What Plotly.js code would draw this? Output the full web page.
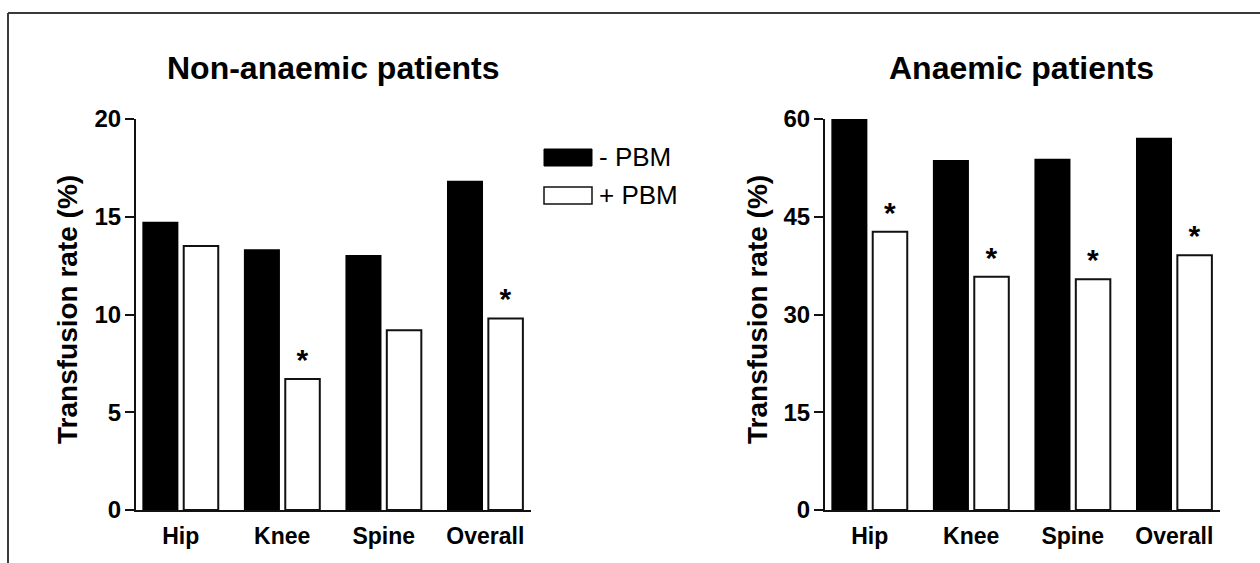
<!DOCTYPE html>
<html>
<head>
<meta charset="utf-8">
<script src="https://cdn.plot.ly/plotly-3.0.1.min.js"></script>
<style>html,body{margin:0;padding:0;background:#fff;}#chart{width:1260px;height:563px;}</style>
</head>
<body>
<div id="chart"></div>
<script>
// ---- data ----
const categories = ['Hip', 'Knee', 'Spine', 'Overall'];
const seriesNames = ['- PBM', '+ PBM'];
const nonAnaemicMinusPBM = [14.7, 13.3, 13.0, 16.8];
const nonAnaemicPlusPBM  = [13.5, 6.7, 9.2, 9.8];
const anaemicMinusPBM    = [59.9, 53.6, 53.8, 57.0];
const anaemicPlusPBM     = [42.7, 35.8, 35.4, 39.1];
const nonAnaemicSignificant = [false, true, false, true];
const anaemicSignificant    = [true, true, true, true];
const leftTicks  = [0, 5, 10, 15, 20];
const rightTicks = [0, 15, 30, 45, 60];
const panelTitles = ['Non-anaemic patients', 'Anaemic patients'];
const yTitle = 'Transfusion rate (%)';

// ---- helpers (pixel -> paper) ----
const W = 1260, H = 563;
const px = p => p / W;
const py = p => 1 - p / H;
const FONT = 'Liberation Sans, Arial, Helvetica, sans-serif';

function stars(flags) { return flags.map(f => f ? '*' : ''); }

const starFont = {family: FONT, size: 30, color: '#000', weight: 'bold'};

const traces = [
  {type: 'bar', x: categories, y: nonAnaemicMinusPBM, name: seriesNames[0], xaxis: 'x', yaxis: 'y',
   marker: {color: '#000', line: {color: '#000', width: 1.5}}, showlegend: false, hoverinfo: 'none'},
  {type: 'bar', x: categories, y: nonAnaemicPlusPBM, name: seriesNames[1], xaxis: 'x', yaxis: 'y',
   marker: {color: '#fff', line: {color: '#111', width: 2}}, showlegend: false, hoverinfo: 'none',
   text: stars(nonAnaemicSignificant), textposition: 'outside', textfont: starFont, cliponaxis: false},
  {type: 'bar', x: categories, y: anaemicMinusPBM, name: seriesNames[0], xaxis: 'x2', yaxis: 'y2',
   marker: {color: '#000', line: {color: '#000', width: 1.5}}, showlegend: false, hoverinfo: 'none'},
  {type: 'bar', x: categories, y: anaemicPlusPBM, name: seriesNames[1], xaxis: 'x2', yaxis: 'y2',
   marker: {color: '#fff', line: {color: '#111', width: 2}}, showlegend: false, hoverinfo: 'none',
   text: stars(anaemicSignificant), textposition: 'outside', textfont: starFont, cliponaxis: false}
];

const tickFont = {family: FONT, size: 24, color: '#000', weight: 'bold'};
const catFont = {family: FONT, size: 23, color: '#000', weight: 'bold'};

function xAxis(domain, anchor) {
  return {domain: domain, anchor: anchor, type: 'category', range: [-0.44, 3.45],
    showline: true, linecolor: '#111', linewidth: 2, ticks: '', showgrid: false, zeroline: false,
    tickfont: catFont, ticklabelstandoff: 4, fixedrange: true};
}
function yAxis(ticks, anchor) {
  return {domain: [py(510), py(119)], anchor: anchor, range: [0, ticks[ticks.length - 1]],
    tickvals: ticks, ticktext: ticks.map(String), showline: true, linecolor: '#111', linewidth: 2,
    ticks: 'outside', ticklen: 9, tickwidth: 2, tickcolor: '#111', showgrid: false, zeroline: false,
    tickfont: tickFont, ticklabelstandoff: -1, fixedrange: true};
}

const lineCol = '#3a3a3a';
const shapes = [
  // figure frame (top and left)
  {type: 'line', xref: 'paper', yref: 'paper', x0: px(8), x1: px(1262), y0: py(13), y1: py(13), line: {color: lineCol, width: 2}},
  {type: 'line', xref: 'paper', yref: 'paper', x0: px(8), x1: px(8), y0: py(13), y1: py(565), line: {color: lineCol, width: 2}},
  // legend swatches
  {type: 'rect', xref: 'paper', yref: 'paper', x0: px(544), x1: px(592), y0: py(149), y1: py(166), fillcolor: '#000', line: {color: '#000', width: 1}},
  {type: 'rect', xref: 'paper', yref: 'paper', x0: px(544), x1: px(592), y0: py(187), y1: py(204), fillcolor: '#fff', line: {color: '#111', width: 1.5}}
];

const annotations = [
  {text: panelTitles[0], xref: 'paper', yref: 'paper', x: px(333), y: py(68), showarrow: false,
   xanchor: 'center', yanchor: 'middle', font: {family: FONT, size: 32, color: '#000', weight: 'bold'}},
  {text: panelTitles[1], xref: 'paper', yref: 'paper', x: px(1021), y: py(68), showarrow: false,
   xanchor: 'center', yanchor: 'middle', font: {family: FONT, size: 32, color: '#000', weight: 'bold'}},
  {text: yTitle, xref: 'paper', yref: 'paper', x: px(67), y: py(310), showarrow: false, textangle: -90,
   xanchor: 'center', yanchor: 'middle', font: {family: FONT, size: 28, color: '#000', weight: 'bold'}},
  {text: yTitle, xref: 'paper', yref: 'paper', x: px(757), y: py(310), showarrow: false, textangle: -90,
   xanchor: 'center', yanchor: 'middle', font: {family: FONT, size: 28, color: '#000', weight: 'bold'}},
  {text: seriesNames[0], xref: 'paper', yref: 'paper', x: px(597), y: py(157), showarrow: false,
   xanchor: 'left', yanchor: 'middle', font: {family: FONT, size: 26, color: '#000'}},
  {text: seriesNames[1], xref: 'paper', yref: 'paper', x: px(597), y: py(195), showarrow: false,
   xanchor: 'left', yanchor: 'middle', font: {family: FONT, size: 26, color: '#000'}}
];

const layout = {
  width: W, height: H, margin: {l: 0, r: 0, t: 0, b: 0},
  paper_bgcolor: '#fff', plot_bgcolor: '#fff',
  barmode: 'group', bargap: 0.2, bargroupgap: 0.15,
  showlegend: false,
  xaxis: xAxis([px(136), px(531)], 'y'),
  yaxis: yAxis(leftTicks, 'x'),
  xaxis2: xAxis([px(825), px(1220)], 'y2'),
  yaxis2: yAxis(rightTicks, 'x2'),
  shapes: shapes, annotations: annotations,
  font: {family: FONT, color: '#000'}
};

Plotly.newPlot('chart', traces, layout, {displayModeBar: false, staticPlot: true});
</script>
</body>
</html>
